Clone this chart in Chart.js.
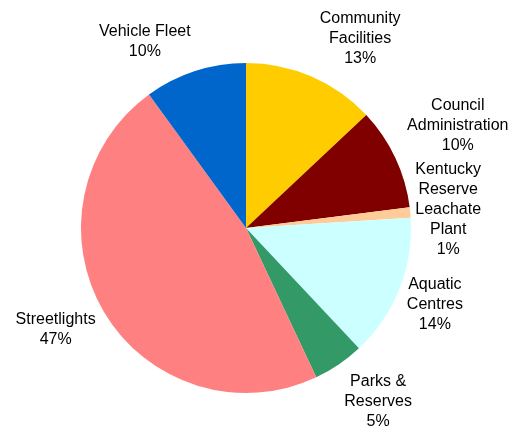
<!DOCTYPE html>
<html>
<head>
<meta charset="utf-8">
<script src="https://cdn.jsdelivr.net/npm/chart.js@4/dist/chart.umd.min.js"></script>
<style>
  html, body { margin: 0; padding: 0; background: #ffffff; }
  #wrap { width: 521px; height: 430px; position: relative; }
</style>
</head>
<body>
<div id="wrap"><canvas id="pie" width="521" height="430"></canvas></div>
<script>
// Energy use share by category (percent)
const categories = [
  ['Community', 'Facilities'],
  ['Council', 'Administration'],
  ['Kentucky', 'Reserve', 'Leachate', 'Plant'],
  ['Aquatic', 'Centres'],
  ['Parks &', 'Reserves'],
  ['Streetlights'],
  ['Vehicle Fleet']
];
const shares = [13, 10, 1, 14, 5, 47, 10];
const sliceColors = ['#FFCC00', '#800000', '#FFCC99', '#CCFFFF', '#339966', '#FF8080', '#0066CC'];

// Label placement: distance beyond the rim and a small angular shift (degrees)
const labelPad = [56, 70, 38, 39, 53, 51, 47];
const labelTurn = [7.7, -0.5, 0.3, 0.6, -3.1, 2.4, -10.5];

const outsideLabels = {
  id: 'outsideLabels',
  afterDatasetsDraw(chart) {
    const ctx = chart.ctx;
    const meta = chart.getDatasetMeta(0);
    ctx.save();
    ctx.font = '16px "Liberation Sans", Arial, sans-serif';
    ctx.fillStyle = '#000000';
    ctx.textAlign = 'center';
    ctx.textBaseline = 'middle';
    const lineH = 20;
    meta.data.forEach((arc, i) => {
      const p = arc.getProps(['x', 'y', 'startAngle', 'endAngle', 'outerRadius'], true);
      const mid = (p.startAngle + p.endAngle) / 2 + labelTurn[i] * Math.PI / 180;
      const d = p.outerRadius + labelPad[i];
      const cx = p.x + Math.cos(mid) * d;
      const cy = p.y + Math.sin(mid) * d;
      const lines = categories[i].concat([shares[i] + '%']);
      const top = cy - (lines.length - 1) * lineH / 2;
      lines.forEach((t, k) => ctx.fillText(t, cx, top + k * lineH));
    });
    ctx.restore();
  }
};

new Chart(document.getElementById('pie'), {
  type: 'pie',
  data: {
    labels: categories.map(c => c.join(' ')),
    datasets: [{
      data: shares,
      backgroundColor: sliceColors,
      borderWidth: 0
    }]
  },
  options: {
    responsive: false,
    animation: false,
    layout: { padding: { left: 81, right: 110, top: 63, bottom: 37 } },
    plugins: {
      legend: { display: false },
      title: { display: false },
      tooltip: { enabled: false }
    }
  },
  plugins: [outsideLabels]
});
</script>
</body>
</html>
